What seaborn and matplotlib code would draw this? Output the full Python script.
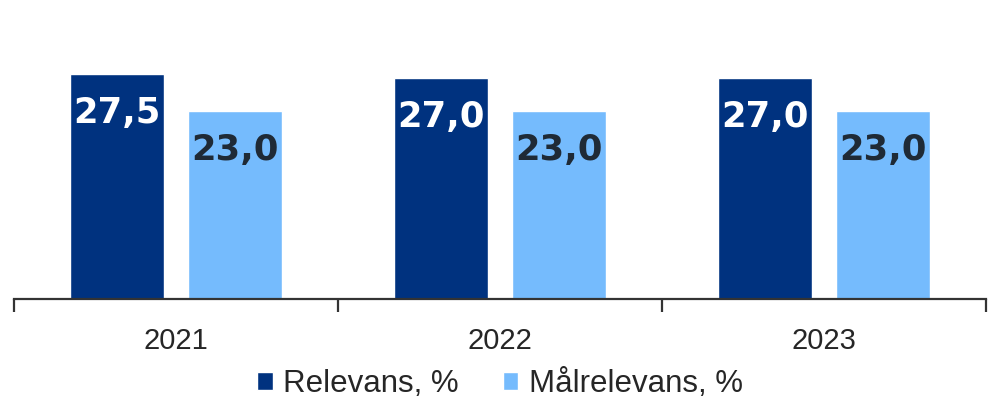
import pandas as pd
import seaborn as sns
import matplotlib.pyplot as plt
from matplotlib.ticker import FixedLocator

years = ["2021", "2022", "2023"]
relevans = [27.5, 27.0, 27.0]
maalrelevans = [23.0, 23.0, 23.0]
series = ["Relevans, %", "Målrelevans, %"]

df = pd.DataFrame({
    "year": years * 2,
    "value": relevans + maalrelevans,
    "serie": [series[0]] * 3 + [series[1]] * 3,
})

sns.set_style("white")
plt.rcParams["font.family"] = ["Liberation Sans", "DejaVu Sans"]

fig = plt.figure(figsize=(10.01, 4.16), dpi=100)
ax = fig.add_axes([14 / 1001, 1 - 299 / 416, 972 / 1001, 299 / 416])

colors = ["#00327F", "#75BBFD"]
sns.barplot(data=df, x="year", y="value", hue="serie", palette=colors,
            width=0.73, gap=0.21, ax=ax, saturation=1)

ax.set_xlim(-0.5, 2.5)
ax.set_ylim(0, 36.6)
ax.set_xlabel("")
ax.set_ylabel("")
ax.set_yticks([])
for s in ["top", "right", "left"]:
    ax.spines[s].set_visible(False)
ax.spines["bottom"].set_color("#333333")
ax.spines["bottom"].set_linewidth(1.6)
ax.xaxis.set_minor_locator(FixedLocator([-0.5, 0.5, 1.5, 2.5]))
ax.tick_params(axis="x", which="major", length=0, labelsize=21, labelcolor="#262626", pad=20)
ax.tick_params(axis="x", which="minor", bottom=True, length=9, width=1.6,
               color="#333333", direction="out")

# verdier inne i stolpene
text_colors = ["white", "#1F2A36"]
for cont, tc in zip(ax.containers, text_colors):
    labels = [f"{b.get_height():.1f}".replace(".", ",") for b in cont]
    ax.bar_label(cont, labels=labels, label_type="edge", padding=-40,
                 color=tc, fontsize=25.5, fontweight="bold", family="DejaVu Sans")

handles, labs = ax.get_legend_handles_labels()
ax.legend(handles, labs, loc="center", bbox_to_anchor=(0.5, -0.285), ncol=2,
          frameon=False, fontsize=22.5, handlelength=0.5, handleheight=0.5,
          handletextpad=0.33, columnspacing=1.4, labelcolor="#262626")

fig.savefig("out.png", dpi=100)
